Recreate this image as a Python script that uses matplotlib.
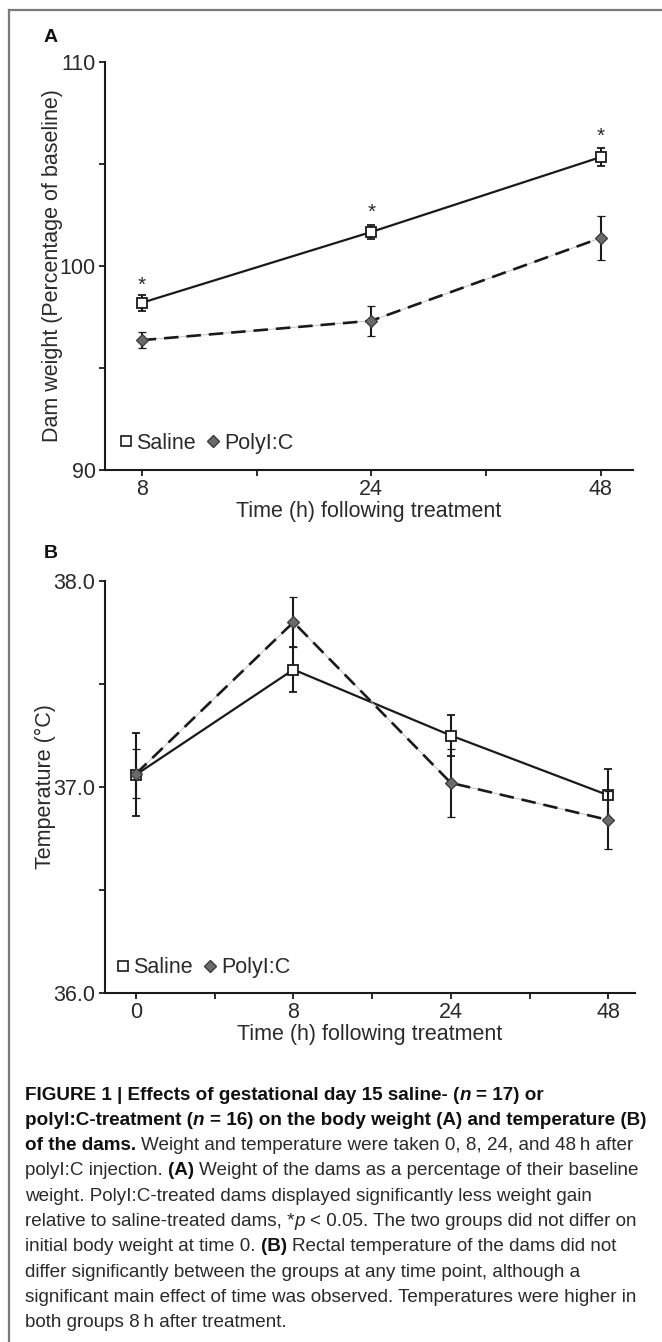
import matplotlib
matplotlib.use('Agg')
import numpy as np
import matplotlib.pyplot as plt
from matplotlib.lines import Line2D

plt.rcParams['font.family'] = ['Liberation Sans', 'DejaVu Sans']

# panel A - dam weight (% of baseline)
hours_a = ['8', '24', '48']
saline_wt = [98.19, 101.66, 105.33]
saline_wt_err = [0.40, 0.33, 0.44]
polyic_wt = [96.36, 97.31, 101.37]
polyic_wt_err = [0.38, 0.73, 1.08]
star_wt = [99.05, 102.6, 106.35]

# panel B - temperature (C)
hours_b = ['0', '8', '24', '48']
saline_temp = [37.06, 37.57, 37.25, 36.96]
saline_temp_err = [0.20, 0.11, 0.10, 0.125]
polyic_temp = [37.065, 37.80, 37.02, 36.84]
polyic_temp_err = [0.12, 0.12, 0.165, 0.14]

W, H = 662, 1342
fig = plt.figure(figsize=(W / 100, H / 100), dpi=100)
ink = '#1a1a1a'
txt_col = '#2a2a2a'
fs = 15.5


def px_axes(l, t, r, b):
    return fig.add_axes([l / W, 1 - b / H, (r - l) / W, (b - t) / H])


def draw_panel(ax, labels, sal, sal_err, pol, pol_err):
    x = np.arange(len(labels))
    ax.errorbar(x, sal, yerr=sal_err, color=ink, lw=1.6, marker='s', ms=6.8,
                mfc='white', mec=ink, mew=1.3, ecolor=ink, elinewidth=1.5,
                capsize=2.8, capthick=1.2, zorder=3)
    # faint guide line under the dashes
    ax.plot(x, pol, color='#bbbbbb', lw=0.6, zorder=3.5)
    ax.errorbar(x, pol, yerr=pol_err, color=ink, lw=1.9, ls=(0, (5.5, 3)),
                marker='D', ms=6, mfc='#6a6a6a', mec='#3a3a3a', mew=0.9,
                ecolor=ink, elinewidth=1.5, capsize=2.8, capthick=1.2, zorder=4)
    ax.set_xticks(x)
    ax.set_xticklabels(labels)
    ax.set_xticks(x[:-1] + 0.5, minor=True)
    for s in ['top', 'right']:
        ax.spines[s].set_visible(False)
    for s in ['left', 'bottom']:
        ax.spines[s].set_linewidth(1.5)
        ax.spines[s].set_color(ink)
    ax.tick_params(which='both', direction='out', length=4.5, width=1.3,
                   color=ink, labelsize=fs, labelcolor=txt_col, pad=2)
    h1 = Line2D([], [], ls='none', marker='s', ms=6.5, mfc='white', mec=ink, mew=1.2)
    h2 = Line2D([], [], ls='none', marker='D', ms=6.5, mfc='#6a6a6a', mec='#3a3a3a')
    return [h1, h2]


# ---- panel A
axA = px_axes(105, 61.7, 633, 470)
hA = draw_panel(axA, hours_a, saline_wt, saline_wt_err, polyic_wt, polyic_wt_err)
axA.set_ylim(90, 110)
axA.set_xlim(-0.16, 2.14)
axA.set_yticks([90, 100, 110])
axA.set_yticks([95, 105], minor=True)
for i, yv in enumerate(star_wt):
    axA.text(i, yv, '*', ha='center', va='center', fontsize=15, color=txt_col)
axA.set_ylabel('Dam weight (Percentage of baseline)', fontsize=fs, color=txt_col, labelpad=-2)
axA.set_xlabel('Time (h) following treatment', fontsize=fs, color=txt_col, labelpad=1)
axA.legend(hA, ['Saline', 'PolyI:C'], loc='center left', bbox_to_anchor=(0.027, 0.066),
           ncol=2, frameon=False, fontsize=fs, handlelength=0.6, handletextpad=0.2,
           columnspacing=0.5, borderpad=0, borderaxespad=0, labelcolor=txt_col)

# ---- panel B
axB = px_axes(104.6, 581, 635, 993)
hB = draw_panel(axB, hours_b, saline_temp, saline_temp_err, polyic_temp, polyic_temp_err)
axB.set_ylim(36.0, 38.0)
axB.set_xlim(-0.2, 3.17)
axB.set_yticks([36.0, 37.0, 38.0])
axB.set_yticklabels(['36.0', '37.0', '38.0'])
axB.set_yticks([36.5, 37.5], minor=True)
axB.set_ylabel('Temperature (°C)', fontsize=fs, color=txt_col, labelpad=-2)
axB.set_xlabel('Time (h) following treatment', fontsize=fs, color=txt_col, labelpad=1)
axB.legend(hB, ['Saline', 'PolyI:C'], loc='center left', bbox_to_anchor=(0.022, 0.061),
           ncol=2, frameon=False, fontsize=fs, handlelength=0.6, handletextpad=0.2,
           columnspacing=0.5, borderpad=0, borderaxespad=0, labelcolor=txt_col)

# panel letters
fig.text(44 / W, 1 - 38 / H, 'A', fontsize=14, fontweight='bold',
         ha='left', va='center', color='#111')
fig.text(44 / W, 1 - 553 / H, 'B', fontsize=14, fontweight='bold',
         ha='left', va='center', color='#111')

# frame (top and left only)
fig.add_artist(Line2D([9 / W, 1], [1 - 10 / H, 1 - 10 / H], transform=fig.transFigure,
                      color='#7a7a7a', lw=1.6))
fig.add_artist(Line2D([9 / W, 9 / W], [1 - 10 / H, 0], transform=fig.transFigure,
                      color='#7a7a7a', lw=1.6))

# ---- caption
renderer = fig.canvas.get_renderer()
cap_size = 13.6


def style_kw(code):
    kw = dict(fontsize=cap_size, color='#2a2a2a')
    if 'b' in code:
        kw['fontweight'] = 'bold'
        kw['color'] = '#111111'
    if 'i' in code:
        kw['fontstyle'] = 'italic'
    return kw


def seg_width(txt, kw):
    t = fig.text(0, 0, txt, **kw)
    w = t.get_window_extent(renderer).width
    t.remove()
    return w


def write_line(y, parts):
    x = 25
    for txt, code in parts:
        kw = style_kw(code)
        sp = seg_width('a a', kw) - seg_width('aa', kw)
        core = txt.strip(' ')
        x += (len(txt) - len(txt.lstrip(' '))) * sp
        if core:
            fig.text(x / W, 1 - y / H, core, ha='left', va='center', **kw)
            x += seg_width(core, kw)
        x += (len(txt) - len(txt.rstrip(' '))) * sp


caption = [
    [('FIGURE 1 | Effects of gestational day 15 saline- (', 'b'), ('n', 'bi'),
     (' = 17) or', 'b')],
    [('polyI:C-treatment (', 'b'), ('n', 'bi'),
     (' = 16) on the body weight (A) and temperature (B)', 'b')],
    [('of the dams.', 'b'), (' Weight and temperature were taken 0, 8, 24, and 48\u2009h after', 'r')],
    [('polyI:C injection. ', 'r'), ('(A)', 'b'),
     (' Weight of the dams as a percentage of their baseline', 'r')],
    [('weight. PolyI:C-treated dams displayed significantly less weight gain', 'r')],
    [('relative to saline-treated dams, *', 'r'), ('p', 'i'),
     (' < 0.05. The two groups did not differ on', 'r')],
    [('initial body weight at time 0. ', 'r'), ('(B)', 'b'),
     (' Rectal temperature of the dams did not', 'r')],
    [('differ significantly between the groups at any time point, although a', 'r')],
    [('significant main effect of time was observed. Temperatures were higher in', 'r')],
    [('both groups 8\u2009h after treatment.', 'r')],
]
for k, parts in enumerate(caption):
    write_line(1095 + k * 25.3, parts)

fig.savefig('out.png', dpi=100, facecolor='white')
